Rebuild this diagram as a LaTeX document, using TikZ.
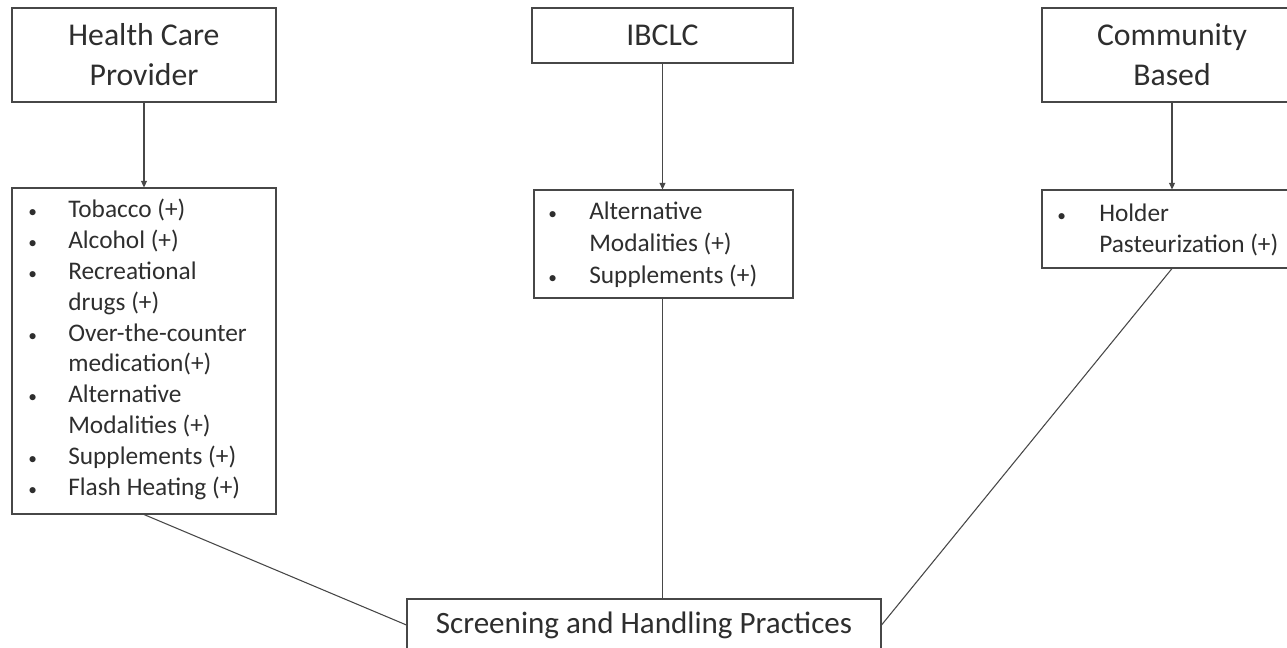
\documentclass[tikz,border=0pt]{standalone}
\usepackage{fontspec}
\setmainfont{Carlito}
\usetikzlibrary{arrows.meta}
\newcommand{\bul}{\hspace*{-3pt}{\fontsize{13}{13}\selectfont •}}
\begin{document}
\begin{tikzpicture}[x=0.75pt,y=-0.75pt,
  box/.style={draw=black!72, line width=0.8pt, inner sep=0pt, text=black!82},
  titletext/.style={align=center, font=\fontsize{23.8}{30}\selectfont},
  listtext/.style={anchor=base west, inner sep=0pt, text=black!82},
  conn/.style={draw=black!72, line width=0.8pt},
  arr/.style={conn, -{Triangle[length=5pt,width=4.5pt]}}]
\useasboundingbox (0,0) rectangle (1287,648);
\clip (0,0) rectangle (1287,648);
% title boxes
\node[box, titletext, minimum width=198pt, minimum height=70.5pt] (hcp) at (144,55) {Health Care\\Provider};
\node[box, titletext, minimum width=195.75pt, minimum height=41.25pt] (ibclc) at (662.5,35.5) {IBCLC};
\node[box, titletext, minimum width=195pt, minimum height=70.5pt] (cb) at (1172,55) {Community\\Based};
% list boxes
\node[box, minimum width=198pt, minimum height=244.5pt] (hcpl) at (144,351) {};
\node[box, minimum width=194.25pt, minimum height=81pt] (ibl) at (663.5,244) {};
\node[box, minimum width=195pt, minimum height=58.5pt] (cbl) at (1172,229) {};
% bottom box
\node[box, minimum width=355.5pt, minimum height=39pt, font=\fontsize{23.3}{29}\selectfont] (bot) at (644,625) {Screening and Handling Practices};
% list texts
\node[listtext] (hcpt) at (32,218) {\fontsize{19}{23.1}\selectfont
  \begin{tabular}[t]{@{}p{27pt}@{}l@{}}
  \bul & Tobacco (+)\\
  \bul & Alcohol (+)\\
  \bul & Recreational\\
    & drugs (+)\\
  \bul & Over-the-counter\\
    & medication(+)\\
  \bul & Alternative\\
    & Modalities (+)\\
  \bul & Supplements (+)\\
  \bul & Flash Heating (+)
  \end{tabular}};
\node[listtext] (ibt) at (552,220) {\fontsize{19}{24}\selectfont
  \begin{tabular}[t]{@{}p{27.75pt}@{}l@{}}
  \bul & Alternative\\
    & Modalities (+)\\
  \bul & Supplements (+)
  \end{tabular}};
\node[listtext] (cbt) at (1061,222) {\fontsize{19}{23.25}\selectfont
  \begin{tabular}[t]{@{}p{28.5pt}@{}l@{}}
  \bul & Holder\\
    & Pasteurization (+)
  \end{tabular}};
% connectors
\draw[arr] (hcp.south) -- (hcpl.north);
\draw[arr] (ibclc.south) -- (ibclc.south |- ibl.north);
\draw[arr] (cb.south) -- (cbl.north);
\draw[conn] (hcpl.south) -- (bot.west);
\draw[conn] (ibclc.south |- ibl.south) -- (ibclc.south |- bot.north);
\draw[conn] (cbl.south) -- (bot.east);
\end{tikzpicture}
\end{document}
